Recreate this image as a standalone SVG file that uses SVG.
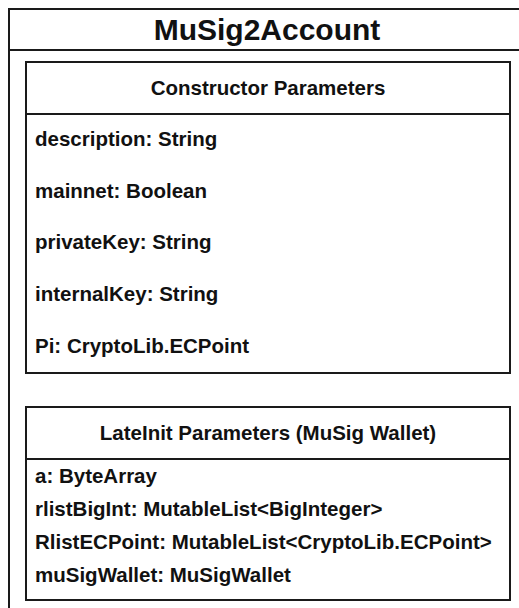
<svg xmlns="http://www.w3.org/2000/svg" width="519" height="608" viewBox="0 0 519 608">
<style>
.box{fill:#ffffff;stroke:#1a1a1a;stroke-width:2}
.ln{stroke:#1a1a1a;stroke-width:2}
.t{font-family:"Liberation Sans",Arial,sans-serif;font-weight:bold;fill:#111111}
.title{font-size:30px;text-anchor:middle}
.hdr{font-size:20.5px;text-anchor:middle}
.fld{font-size:20.5px}
</style>
<rect width="519" height="608" fill="#ffffff"/>
<g id="MuSig2Account">
<rect class="box" x="9" y="9" width="540" height="620"/>
<line class="ln" x1="9" y1="50" x2="549" y2="50"/>
<text class="t title" x="267" y="40">MuSig2Account</text>
</g>
<g id="ConstructorParameters">
<rect class="box" x="26" y="62" width="484" height="311"/>
<line class="ln" x1="26" y1="114" x2="510" y2="114"/>
<text class="t hdr" x="268" y="95">Constructor Parameters</text>
<text class="t fld" x="35" y="146">description: String</text>
<text class="t fld" x="35" y="198">mainnet: Boolean</text>
<text class="t fld" x="35" y="249">privateKey: String</text>
<text class="t fld" x="35" y="301">internalKey: String</text>
<text class="t fld" x="35" y="353">Pi: CryptoLib.ECPoint</text>
</g>
<g id="LateInitParameters">
<rect class="box" x="26" y="407" width="484" height="193"/>
<line class="ln" x1="26" y1="459" x2="510" y2="459"/>
<text class="t hdr" x="268" y="440">LateInit Parameters (MuSig Wallet)</text>
<text class="t fld" x="35" y="483">a: ByteArray</text>
<text class="t fld" x="35" y="516">rlistBigInt: MutableList&lt;BigInteger&gt;</text>
<text class="t fld" x="35" y="549">RlistECPoint: MutableList&lt;CryptoLib.ECPoint&gt;</text>
<text class="t fld" x="35" y="582">muSigWallet: MuSigWallet</text>
</g>
<g id="connectors"></g>
</svg>
